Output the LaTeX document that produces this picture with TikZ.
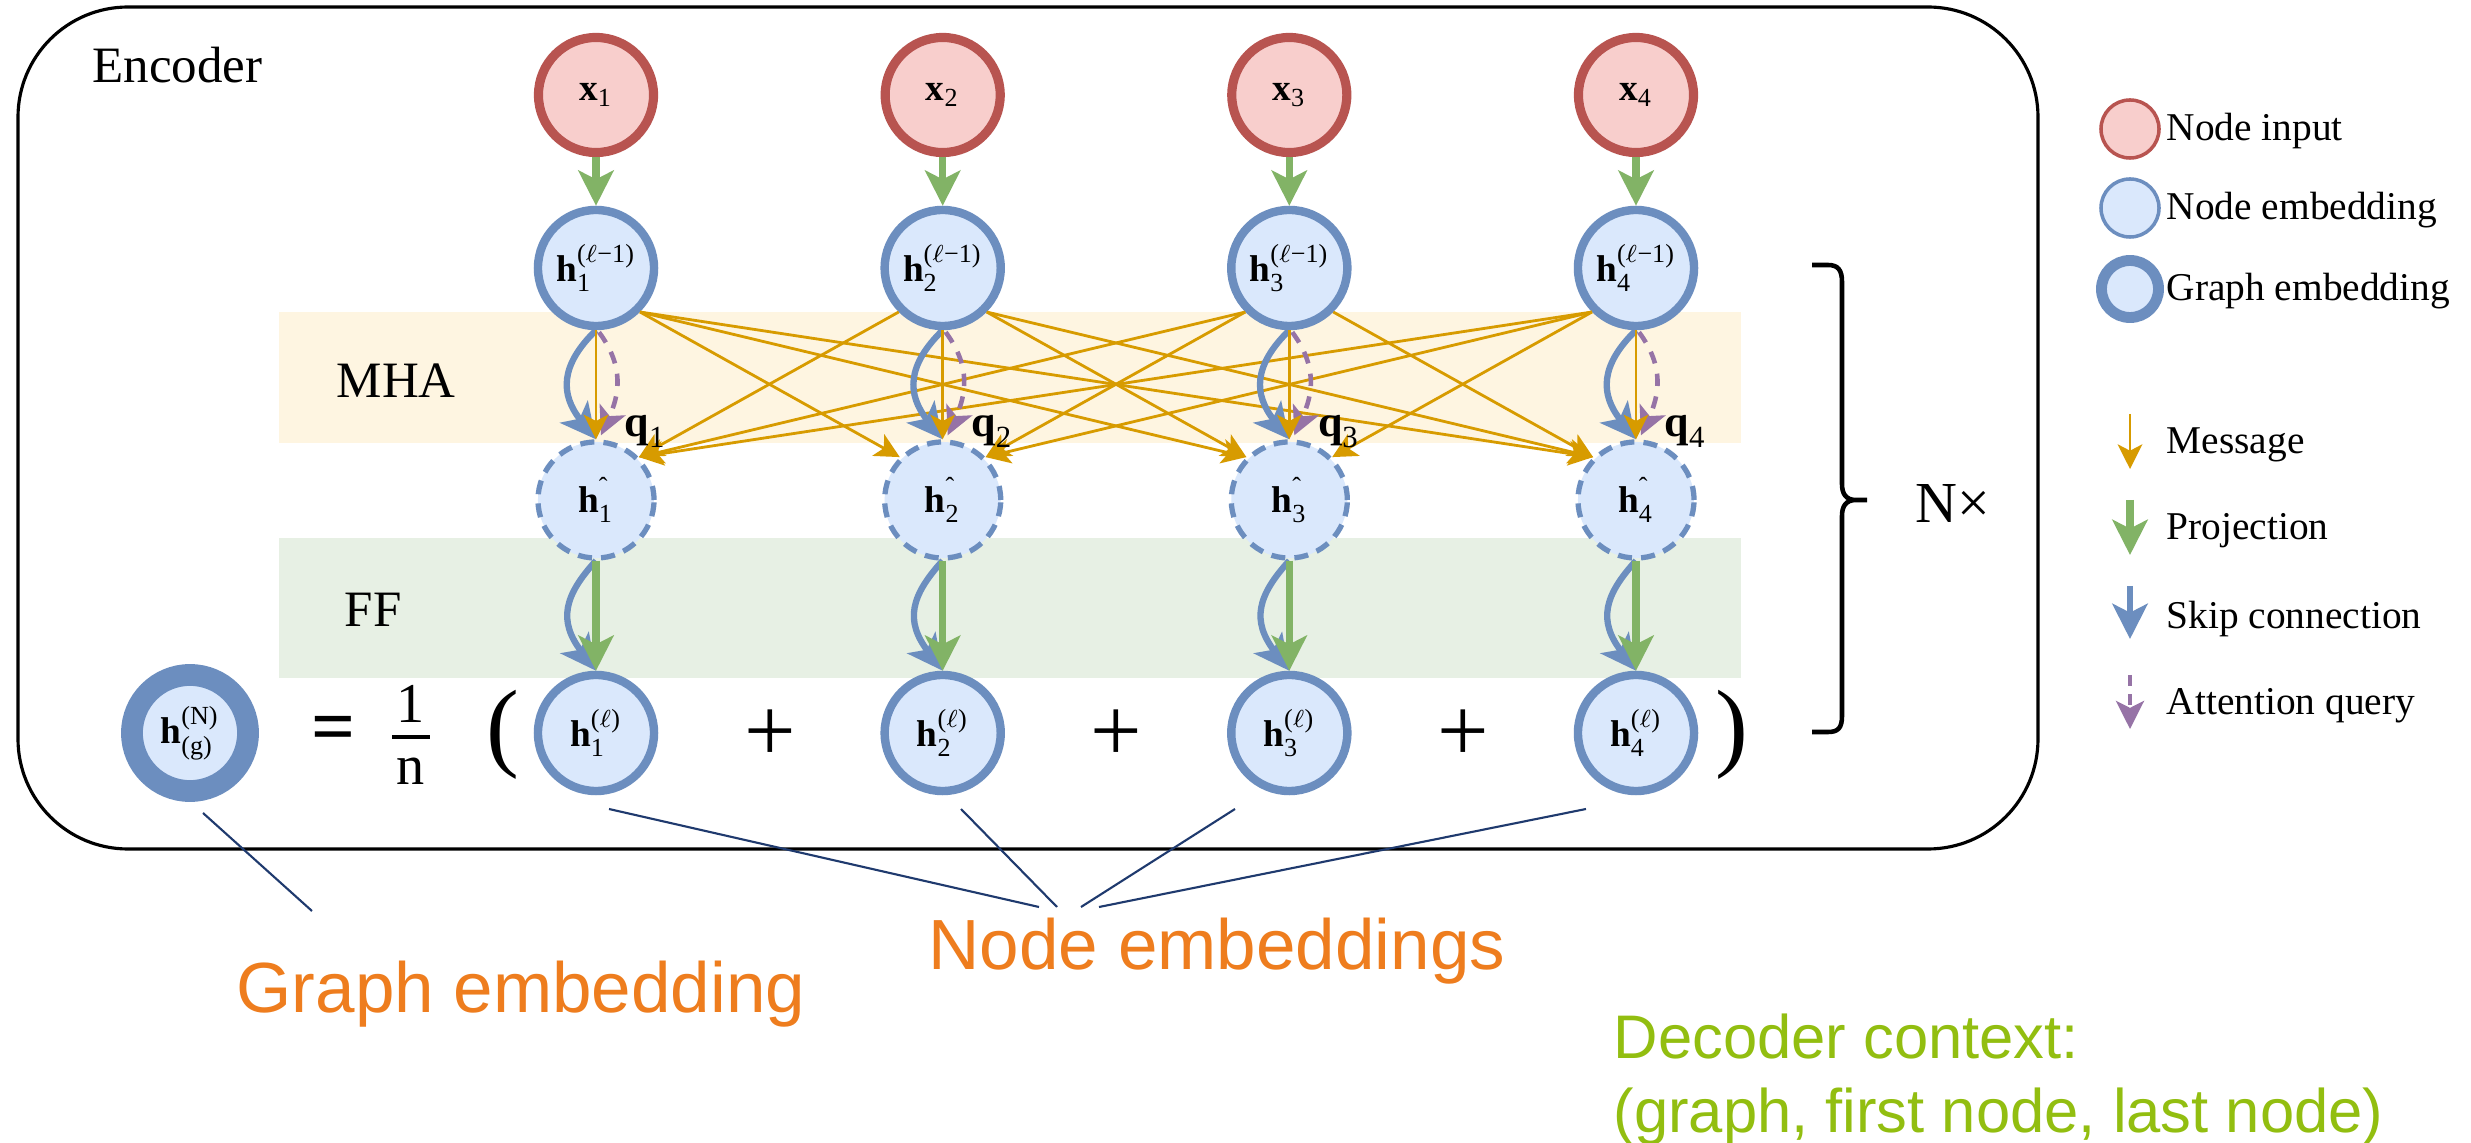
\documentclass[tikz,border=0pt]{standalone}
\usepackage{fontspec}
\usepackage{amsmath}
\setmainfont{Liberation Serif}
\newfontfamily\annfont{Liberation Sans}
\usetikzlibrary{arrows.meta,calc}
\definecolor{redB}{HTML}{B85450}
\definecolor{redF}{HTML}{F8CECC}
\definecolor{blueB}{HTML}{6C8EBF}
\definecolor{blueF}{HTML}{DAE8FC}
\definecolor{projG}{HTML}{82B366}
\definecolor{msgO}{HTML}{D79B00}
\definecolor{qryP}{HTML}{9673A6}
\definecolor{mhaBand}{HTML}{FEF5E1}
\definecolor{ffBand}{HTML}{E7F0E4}
\definecolor{annOrange}{HTML}{EE7D1E}
\definecolor{annGreen}{HTML}{92BE10}
\definecolor{annLine}{HTML}{1F3A6E}
\newcommand{\bv}[1]{\textbf{#1}}

\begin{document}
\begin{tikzpicture}[x=0.01cm,y=-0.01cm,
  lbl/.style={font=\fontsize{10.6}{12}\selectfont},
  inp/.style={circle, draw=redB, fill=redF, line width=2.6pt, minimum size=1.15cm, inner sep=0pt, lbl},
  emb/.style={circle, draw=blueB, fill=blueF, line width=2.4pt, minimum size=1.16cm, inner sep=0pt, lbl},
  hatn/.style={circle, draw=blueB, fill=blueF, line width=1.5pt, dash pattern=on 4pt off 2.6pt, minimum size=1.16cm, inner sep=0pt, lbl},
  graphn/.style={circle, draw=blueB, fill=blueF, line width=6.2pt, minimum size=1.16cm, inner sep=0pt, lbl},
  proj/.style={draw=projG, line width=2pt, -{Stealth[length=10pt,width=10pt,inset=2.5pt]}},
  skip/.style={draw=blueB, line width=1.8pt, -{Stealth[length=10pt,width=10pt,inset=2.5pt]}},
  msg/.style={draw=msgO, line width=0.8pt, -{Stealth[length=7pt,width=7pt,inset=1.8pt]}},
  qry/.style={draw=qryP, line width=1.3pt, dash pattern=on 3.5pt off 3pt, -{Stealth[length=8pt,width=8pt,inset=2pt]}},
  qlbl/.style={font=\fontsize{12.5}{14}\selectfont, anchor=base west, inner sep=0pt},
  serifbig/.style={font=\fontsize{14.5}{17}\selectfont, inner sep=0pt},
  plus/.style={font=\fontsize{26}{28}\selectfont, inner sep=0pt},
  paren/.style={font=\fontsize{28}{30}\selectfont, inner sep=0pt},
  legtext/.style={anchor=base west, font=\fontsize{11.2}{13}\selectfont, inner sep=0pt},
  anntext/.style={anchor=base west, font=\annfont\fontsize{17.5}{20}\selectfont, inner sep=0pt},
  bigann/.style={anchor=base west, font=\annfont\fontsize{20.2}{23}\selectfont, inner sep=0pt},
  annline/.style={draw=annLine, line width=0.6pt}]

\fill[white] (0,0) rectangle (2471,1143);
\useasboundingbox (0,0) rectangle (2471,1143);

% encoder frame and layer bands
\draw[line width=0.9pt, rounded corners=1.1cm] (18,7) rectangle (2038,849);
\fill[mhaBand] (279,312) rectangle (1741,443);
\fill[ffBand] (279,538) rectangle (1741,678);

\node[serifbig, anchor=base west] (enc) at (92,83) {Encoder};
\node[serifbig, anchor=base west] (mha) at (336,398) {MHA};
\node[serifbig, anchor=base west] (ff) at (344,627) {FF};

% callout lines
\coordinate (g0) at (203,813); \coordinate (g1) at (312,911);
\draw[annline] (g0) -- (g1);
\coordinate (n1) at (609,809);  \coordinate (m1) at (1039,907);
\coordinate (n2) at (961,809);  \coordinate (m2) at (1057,907);
\coordinate (n3) at (1235,809); \coordinate (m3) at (1081,907);
\coordinate (n4) at (1586,809); \coordinate (m4) at (1099,907);
\foreach \k in {1,...,4} { \draw[annline] (n\k) -- (m\k); }

% node columns
\foreach \i/\x in {1/596,2/942.7,3/1289.3,4/1636} {
  \node[inp] (x\i) at (\x,95) {$\bv{x}_{\text{\i}}$};
  \node[emb] (hp\i) at (\x,268) {$\bv{h}^{\text{(}\ell\text{−1)}}_{\text{\i}}$};
  \node[hatn] (hh\i) at (\x,500) {$\bv{h}^{\text{ˆ}}_{\text{\i}}$};
  \node[emb] (hl\i) at (\x,733) {$\bv{h}^{\text{(}\ell\text{)}}_{\text{\i}}$};
}

% messages between different nodes
\foreach \i in {1,...,4} {
  \foreach \j in {1,...,4} {
    \ifnum\i<\j \draw[msg] (hp\i.-45) -- (hh\j.135); \fi
    \ifnum\i>\j \draw[msg] (hp\i.-135) -- (hh\j.45); \fi
  }
}

% per-column connections
\foreach \i in {1,...,4} {
  \draw[proj] (x\i.south) -- (hp\i.north);
  \draw[skip] (hp\i.south) .. controls +(-36,35) and +(-36,-45) .. (hh\i.north);
  \draw[qry] ($(hp\i.south)+(3,2)$) .. controls +(26,35) and +(18,-40) .. ($(hh\i.north)+(5,-4)$);
  \draw[msg] (hp\i.south) -- (hh\i.north);
  \draw[skip] (hh\i.south) .. controls +(-32,35) and +(-38,-50) .. (hl\i.north);
  \draw[proj] (hh\i.south) -- (hl\i.north);
  \node[qlbl] (q\i) at ($(hh\i.north)+(28,-3)$) {$\bv{q}_{\text{\i}}$};
}

% graph embedding as mean of node embeddings
\node[graphn] (hg) at (190,733) {$\bv{h}^{\text{(N)}}_{\text{(g)}}$};
\node[font=\fontsize{22}{24}\selectfont\bfseries, inner sep=0pt] (eq) at (334,734) {=};
\node[font=\fontsize{16}{18}\selectfont, anchor=base, inner sep=0pt] (num) at (411,723) {1};
\draw[line width=1.1pt] (392,737) -- (430,737);
\node[font=\fontsize{16}{18}\selectfont, anchor=base, inner sep=0pt] (den) at (411,785) {n};
\node[paren] (lp) at (503,735) {(};
\node[plus] (p1) at (770,736) {+};
\node[plus] (p2) at (1116,736) {+};
\node[plus] (p3) at (1463,736) {+};
\node[paren] (rp) at (1732,735) {)};

% layer repetition brace
\draw[line width=1.3pt] (1812,265) -- (1828,265) .. controls (1838,265) and (1842,270) .. (1842,282)
  -- (1842,484) .. controls (1842,494) and (1846,500) .. (1856,500) -- (1867,500)
  (1856,500) .. controls (1846,500) and (1842,506) .. (1842,516)
  -- (1842,716) .. controls (1842,728) and (1838,732) .. (1828,732) -- (1812,732);
\node[font=\fontsize{16.5}{18}\selectfont, anchor=base west, inner sep=0pt] (nx) at (1915,523) {N×};

% legend
\node[circle, draw=redB, fill=redF, line width=1pt, minimum size=0.58cm] (lgin) at (2130,129) {};
\node[circle, draw=blueB, fill=blueF, line width=1pt, minimum size=0.58cm] (lgemb) at (2130,208) {};
\node[circle, draw=blueB, fill=blueF, line width=3.1pt, minimum size=0.57cm] (lggr) at (2130,289) {};
\node[legtext] (tin) at (2166,141) {Node input};
\node[legtext] (temb) at (2166,220) {Node embedding};
\node[legtext] (tgr) at (2166,301) {Graph embedding};

\coordinate (la0) at (2130,414); \coordinate (la1) at (2130,469);
\coordinate (lb0) at (2130,500); \coordinate (lb1) at (2130,555);
\coordinate (lc0) at (2130,586); \coordinate (lc1) at (2130,639);
\coordinate (ld0) at (2130,675); \coordinate (ld1) at (2130,729);
\draw[msg] (la0) -- (la1);
\draw[proj] (lb0) -- (lb1);
\draw[skip] (lc0) -- (lc1);
\draw[qry, line width=1pt, dash pattern=on 3pt off 2.5pt] (ld0) -- (ld1);
\node[legtext] (tmsg) at (2166,454) {Message};
\node[legtext] (tproj) at (2166,540) {Projection};
\node[legtext] (tskip) at (2166,629) {Skip connection};
\node[legtext] (tqry) at (2166,715) {Attention query};

% annotations
\node[bigann, text=annOrange] (gtxt) at (236,1012) {Graph embedding};
\node[bigann, text=annOrange] (ntxt) at (928,970) {Node embeddings};
\node[anntext, text=annGreen] (dtxt1) at (1613,1058) {Decoder context:};
\node[anntext, text=annGreen] (dtxt2) at (1613,1133) {(graph, first node, last node)};
\end{tikzpicture}
\end{document}
